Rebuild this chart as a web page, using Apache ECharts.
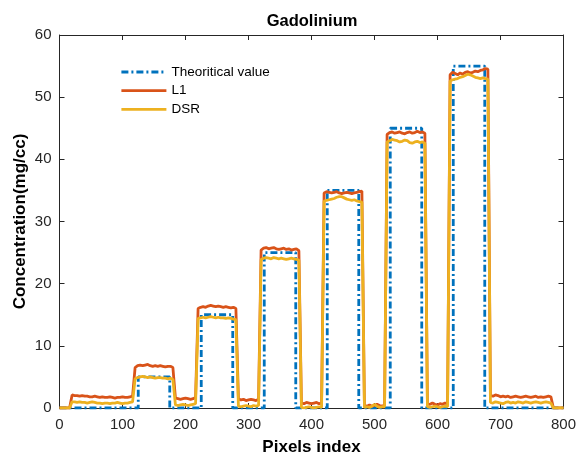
<!DOCTYPE html>
<html>
<head>
<meta charset="utf-8">
<script src="https://cdn.jsdelivr.net/npm/echarts@6/dist/echarts.min.js"></script>
<style>
html,body{margin:0;padding:0;background:#fff;}
#chart{width:577px;height:457px;}
</style>
</head>
<body>
<div id="chart"></div>
<script>
// ---- data ----
const chartTitle = 'Gadolinium';
const xName = 'Pixels index';
const yName = 'Concentration(mg/cc)';
const seriesNames = ['Theoritical value', 'L1', 'DSR'];
const xTicks = [0, 100, 200, 300, 400, 500, 600, 700, 800];
const yTicks = [0, 10, 20, 30, 40, 50, 60];

// theoretical (step) profile breakpoints
const theoX = [0,125,125,175,175,225,225,275,275,325,325,375,375,425,425,475,475,525,525,575,575,625,625,675,675,800];
const theoY = [0,0,5,5,0,0,15,15,0,0,25,25,0,0,35,35,0,0,45,45,0,0,55,55,0,0];

// pixel index sampled every 4 pixels (0..800)
const pixelStep = 4;
const pixelCount = 201;

const l1Values = [
 0,0,0,0,0,
 2.1,2.0,2.0,1.9,2.0,1.9,1.9,1.8,1.8,1.9,1.8,1.7,1.8,1.7,1.7,1.8,1.7,1.6,1.7,1.7,1.8,1.7,1.7,1.8,1.9,
 6.5,6.8,6.9,6.8,6.9,7.0,6.8,6.7,6.8,6.7,6.8,6.7,6.6,6.7,6.7,6.5,
 1.6,1.5,1.4,1.5,1.6,1.5,1.4,1.5,1.7,
 16.0,16.2,16.3,16.2,16.4,16.5,16.4,16.3,16.4,16.3,16.2,16.3,16.2,16.1,16.2,16.0,
 1.5,1.3,1.4,1.2,1.3,1.4,1.3,1.2,1.4,
 25.4,25.7,25.8,25.6,25.7,25.8,25.6,25.5,25.6,25.7,25.5,25.6,25.4,25.5,25.6,25.3,
 0.8,0.7,0.9,0.8,0.7,0.8,0.9,0.7,0.8,
 34.6,34.8,34.7,34.6,34.7,34.8,34.6,34.5,34.6,34.7,34.6,34.5,34.6,34.7,34.8,34.9,
 0.4,0.3,0.5,0.3,0.4,0.6,0.4,0.3,0.5,
 44.0,44.3,44.4,44.2,44.3,44.4,44.2,44.1,44.3,44.4,44.2,44.3,44.5,44.3,44.4,44.2,
 0.7,0.6,0.8,0.6,0.5,0.7,0.6,0.8,0.7,
 53.6,54.0,53.8,53.6,53.9,53.7,54.0,54.1,53.9,54.0,54.2,54.1,54.3,54.4,54.6,54.5,
 2.0,1.9,2.1,2.0,1.8,1.9,1.8,1.9,1.7,1.8,1.9,1.8,1.7,1.8,1.9,1.8,1.7,1.8,1.9,1.7,1.8,1.7,1.8,1.9,1.8,
 0,0,0,0,0
];

const dsrValues = [
 0,0,0,0,0,
 1.0,1.0,0.9,1.0,0.9,0.9,0.8,0.9,1.0,0.9,0.8,0.8,0.7,0.8,0.8,0.7,0.8,0.8,0.9,0.8,0.7,0.8,0.8,0.9,1.0,
 4.7,4.9,5.0,5.1,5.0,4.9,5.0,4.9,4.8,4.9,4.9,4.8,4.8,4.7,4.8,4.6,
 0.5,0.4,0.5,0.6,0.5,0.4,0.5,0.6,0.7,
 14.4,14.5,14.6,14.5,14.6,14.7,14.6,14.5,14.6,14.5,14.5,14.4,14.5,14.4,14.3,14.2,
 0.3,0.2,0.3,0.4,0.3,0.2,0.4,0.3,0.4,
 23.9,24.1,24.2,24.1,24.0,24.2,24.1,24.0,24.1,24.0,23.9,24.0,24.1,24.0,23.9,23.8,
 0.1,0.0,0.1,0.2,0.1,0.0,0.1,0.2,0.1,
 33.3,33.4,33.5,33.6,33.7,33.9,34.0,34.0,33.8,33.6,33.5,33.4,33.5,33.3,33.2,33.1,
 0.1,0.2,0.1,0.3,0.6,0.3,0.1,0.2,0.2,
 42.8,43.0,43.2,43.1,43.0,42.8,42.9,43.1,43.0,42.7,42.6,42.8,42.9,42.7,42.8,42.6,
 0.2,0.1,0.2,0.3,0.2,0.1,0.2,0.3,0.2,
 52.6,52.8,52.9,53.0,53.2,53.3,53.5,53.7,53.6,53.4,53.2,53.1,53.0,53.1,53.0,52.9,
 0.9,0.8,1.0,0.9,0.8,0.7,0.9,1.0,0.8,0.9,0.8,1.0,0.9,0.8,1.0,0.9,0.8,0.9,1.0,0.9,0.8,0.9,1.0,0.9,0.8,
 0,0,0,0,0
];

// ---- build ----
const pixels = [];
for (let i = 0; i < pixelCount; i++) pixels.push(i * pixelStep);
const theoData = theoX.map((x, i) => [x, theoY[i]]);
const l1Data = pixels.map((x, i) => [x, l1Values[i]]);
const dsrData = pixels.map((x, i) => [x, dsrValues[i]]);

const FONT = '"Liberation Sans", Arial, Helvetica, sans-serif';
const AX = '#262626';
const COLORS = ['#0072BD', '#D95319', '#EDB120'];
const LW = 2.8;
const DASH = [7, 3, 2, 3];

const chart = echarts.init(document.getElementById('chart'), null, {renderer: 'canvas'});

function baseAxis(extra) {
  return Object.assign({
    type: 'value',
    axisLine: {show: true, onZero: false, lineStyle: {color: AX, width: 1}},
    axisTick: {show: true, inside: true, length: 5, lineStyle: {color: AX, width: 1}},
    splitLine: {show: false},
  }, extra);
}

chart.setOption({
  animation: false,
  backgroundColor: '#fff',
  grid: {left: 59.5, right: 13.5, top: 35, bottom: 49, outerBoundsMode: 'none', containLabel: false},
  graphic: [{
    type: 'text', x: 312, y: 21,
    style: {text: chartTitle, font: 'bold 16.5px ' + FONT, fill: '#000', textAlign: 'center', textVerticalAlign: 'middle'}
  }],
  legend: {
    orient: 'vertical', left: 120, top: 65, padding: 0,
    itemWidth: 45, itemHeight: 14, itemGap: 4.7,
    itemStyle: {opacity: 0, borderWidth: 0},
    textStyle: {fontFamily: FONT, fontSize: 13.5, color: '#000'},
    data: [
      {name: seriesNames[0], lineStyle: {color: COLORS[0], width: LW, type: DASH}},
      {name: seriesNames[1], lineStyle: {color: COLORS[1], width: LW}},
      {name: seriesNames[2], lineStyle: {color: COLORS[2], width: LW}}
    ]
  },
  xAxis: [
    baseAxis({
      min: 0, max: 800, interval: 100, position: 'bottom',
      axisLabel: {margin: 9, fontFamily: FONT, fontSize: 15, color: AX,
        formatter: v => (xTicks.indexOf(v) >= 0 ? String(v) : '')},
      name: xName, nameLocation: 'middle', nameGap: 31, nameMoveOverlap: false,
      nameTextStyle: {fontFamily: FONT, fontSize: 17, fontWeight: 'bold', color: '#000'}
    }),
    baseAxis({min: 0, max: 800, interval: 100, position: 'top', axisLabel: {show: false}})
  ],
  yAxis: [
    baseAxis({
      min: 0, max: 60, interval: 10, position: 'left',
      axisLabel: {margin: 8, fontFamily: FONT, fontSize: 15, color: AX,
        formatter: v => (yTicks.indexOf(v) >= 0 ? String(v) : '')},
      name: yName, nameLocation: 'middle', nameGap: 31, nameRotate: 90, nameMoveOverlap: false,
      nameTextStyle: {fontFamily: FONT, fontSize: 17, fontWeight: 'bold', color: '#000'}
    }),
    baseAxis({min: 0, max: 60, interval: 10, position: 'right', axisLabel: {show: false}})
  ],
  series: [
    {
      name: seriesNames[0], type: 'line', data: theoData, symbol: 'none',
      color: COLORS[0],
      lineStyle: {color: COLORS[0], width: LW, type: DASH}
    },
    {
      name: seriesNames[1], type: 'line', data: l1Data, symbol: 'none',
      color: COLORS[1],
      lineStyle: {color: COLORS[1], width: LW}
    },
    {
      name: seriesNames[2], type: 'line', data: dsrData, symbol: 'none',
      color: COLORS[2],
      lineStyle: {color: COLORS[2], width: LW}
    }
  ]
});
</script>
</body>
</html>
